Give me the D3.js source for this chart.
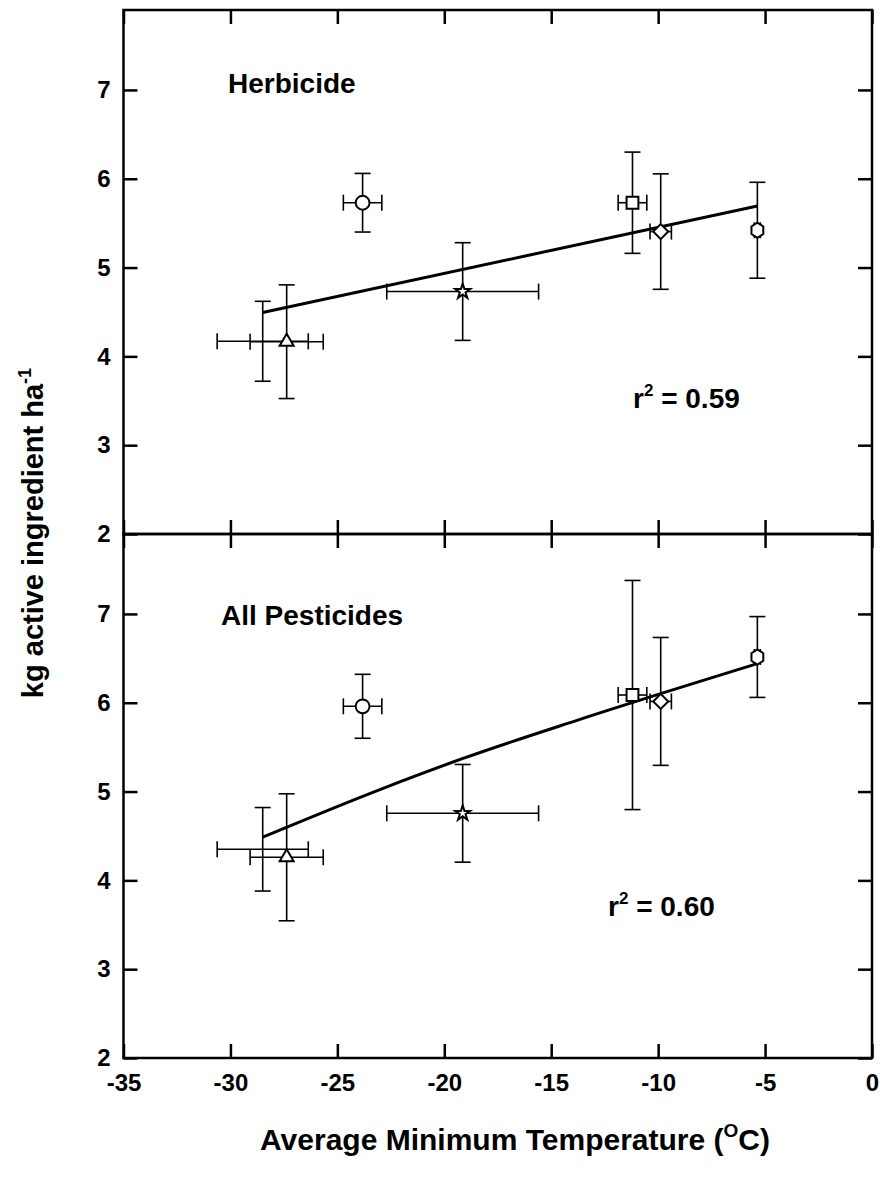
<!DOCTYPE html>
<html>
<head>
<meta charset="utf-8">
<script src="https://cdn.jsdelivr.net/npm/d3@7"></script>
<style>
  body { margin: 0; background: #fff; }
  svg { display: block; font-family: "Liberation Sans", Arial, sans-serif; font-weight: bold; }
</style>
</head>
<body>
<div id="chart"></div>
<script>
// Data
// one entry per site; the first one has no visible marker
const symbols = ["none", "triangle", "circle", "star", "square", "diamond", "hexagon"];
const temps = [-28.49, -27.37, -23.82, -19.14, -11.2, -9.88, -5.36];
const tempErr = [2.13, 1.71, 0.9, 3.55, 0.67, 0.5, 0.14];

const herbicide = [4.17, 4.165, 5.73, 4.73, 5.73, 5.405, 5.42];
const herbicideErr = [0.45, 0.64, 0.33, 0.55, 0.57, 0.65, 0.54];

const pesticides = [4.35, 4.26, 5.96, 4.755, 6.087, 6.015, 6.515];
const pesticidesErr = [0.47, 0.715, 0.36, 0.55, 1.29, 0.72, 0.455];

// fitted lines
const herbicideFitX = [-28.49, -5.36];
const herbicideFitY = [4.494, 5.693];
const pesticidesFitX = [-28.49, -23.04, -19.16, -13.69, -5.36];
const pesticidesFitY = [4.487, 5.02, 5.37, 5.81, 6.44];

const xTicks = [-35, -30, -25, -20, -15, -10, -5, 0];
const yTicks = [2, 3, 4, 5, 6, 7];

// Graph dimensions
const width = 880;
const height = 1181;
const left = 123.5, right = 872;
const top1 = 10, mid = 534, bottom2 = 1058;
const tickFont = 24;

const svg = d3.select("#chart").append("svg")
  .attr("width", width)
  .attr("height", height);

const xScale = d3.scaleLinear().domain([-35, 0]).range([left, right]);
const yTop = d3.scaleLinear().domain([2, 7.9]).range([mid, top1]);
const yBottom = d3.scaleLinear().domain([2, 7.9]).range([bottom2, mid]);

// plain hyphen for negative numbers, like the original
const fmt = (d) => String(d);

// hexagon symbol with pointed top and bottom
const symbolHexagon = {
  draw(context, size) {
    const r = Math.sqrt(size / 2.598);
    for (let i = 0; i < 6; i++) {
      const a = Math.PI / 2 + i * Math.PI / 3;
      const px = r * Math.cos(a) * 0.9, py = r * Math.sin(a);
      if (i === 0) context.moveTo(px, py); else context.lineTo(px, py);
    }
    context.closePath();
  }
};

const symbolPath = {
  circle: d3.symbol(d3.symbolCircle, 150)(),
  square: d3.symbol(d3.symbolSquare, 140)(),
  diamond: d3.symbol(d3.symbolSquare, 112)(),
  triangle: d3.symbol(d3.symbolTriangle, 85)(),
  star: d3.symbol(d3.symbolStar, 70)(),
  hexagon: d3.symbol(symbolHexagon, 150)()
};

function drawPanel(yScale, values, errs, fitX, fitY, curve, showBottomLabels) {
  const g = svg.append("g");
  const pts = temps.map((t, i) => ({ x: t, y: values[i], xe: tempErr[i], ye: errs[i], s: symbols[i] }));
  const cap = 8;

  // error bars
  const eb = g.append("g").attr("stroke", "#000").attr("stroke-width", 1.6).attr("fill", "none");
  pts.forEach((d) => {
    const cx = xScale(d.x);
    const y0 = yScale(d.y - d.ye), y1 = yScale(d.y + d.ye);
    eb.append("line").attr("x1", cx).attr("x2", cx).attr("y1", y0).attr("y2", y1);
    eb.append("line").attr("x1", cx - cap).attr("x2", cx + cap).attr("y1", y0).attr("y2", y0);
    eb.append("line").attr("x1", cx - cap).attr("x2", cx + cap).attr("y1", y1).attr("y2", y1);
    const cy = yScale(d.y);
    const x0 = xScale(d.x - d.xe), x1 = xScale(d.x + d.xe);
    eb.append("line").attr("x1", x0).attr("x2", x1).attr("y1", cy).attr("y2", cy);
    eb.append("line").attr("x1", x0).attr("x2", x0).attr("y1", cy - cap).attr("y2", cy + cap);
    eb.append("line").attr("x1", x1).attr("x2", x1).attr("y1", cy - cap).attr("y2", cy + cap);
  });

  // fit line
  const line = d3.line()
    .x((d) => xScale(d[0]))
    .y((d) => yScale(d[1]))
    .curve(curve);
  g.append("path")
    .datum(fitX.map((v, i) => [v, fitY[i]]))
    .attr("d", line)
    .attr("fill", "none")
    .attr("stroke", "#000")
    .attr("stroke-width", 3);

  // markers
  g.selectAll("path.marker")
    .data(pts.filter((d) => d.s !== "none"))
    .enter()
    .append("path")
    .attr("class", "marker")
    .attr("d", (d) => symbolPath[d.s])
    .attr("transform", (d) => `translate(${xScale(d.x)},${yScale(d.y)})` + (d.s === "diamond" ? " rotate(45)" : ""))
    .attr("fill", "#fff")
    .attr("stroke", "#000")
    .attr("stroke-width", 2);

  // axes, ticks pointing inward
  const [yb, yt] = yScale.range();
  const yAxisL = g.append("g")
    .attr("transform", `translate(${left},0)`)
    .call(d3.axisLeft(yScale).tickValues(yTicks).tickSize(-14).tickPadding(13).tickFormat(fmt));
  const yAxisR = g.append("g")
    .attr("transform", `translate(${right},0)`)
    .call(d3.axisRight(yScale).tickValues(yTicks).tickSize(-14).tickFormat(""));
  const xAxisB = g.append("g")
    .attr("transform", `translate(0,${yb})`)
    .call(d3.axisBottom(xScale).tickValues(xTicks).tickSize(-14).tickPadding(16).tickFormat(showBottomLabels ? fmt : ""));
  const xAxisT = g.append("g")
    .attr("transform", `translate(0,${yt})`)
    .call(d3.axisTop(xScale).tickValues(xTicks).tickSize(-14).tickFormat(""));

  [yAxisL, yAxisR, xAxisB, xAxisT].forEach((a) => {
    a.select(".domain").remove();
    a.selectAll("line").attr("stroke", "#000").attr("stroke-width", 2.5);
    a.selectAll("text").attr("font-size", tickFont).attr("font-family", null).attr("fill", "#000");
  });

  // frame
  g.append("rect")
    .attr("x", left)
    .attr("y", yt)
    .attr("width", right - left)
    .attr("height", yb - yt)
    .attr("fill", "none")
    .attr("stroke", "#000")
    .attr("stroke-width", 2.5);
  return g;
}

drawPanel(yTop, herbicide, herbicideErr, herbicideFitX, herbicideFitY, d3.curveLinear, false);
drawPanel(yBottom, pesticides, pesticidesErr, pesticidesFitX, pesticidesFitY, d3.curveMonotoneX, true);

// panel labels
svg.append("text").attr("x", 228).attr("y", 93).attr("font-size", 28).text("Herbicide");
svg.append("text").attr("x", 221).attr("y", 625).attr("font-size", 28).text("All Pesticides");

function rLabel(x, y, val) {
  const t = svg.append("text").attr("x", x).attr("y", y).attr("font-size", 28);
  t.append("tspan").text("r");
  t.append("tspan").attr("dy", -12).attr("font-size", 17).text("2");
  t.append("tspan").attr("dy", 12).text(" = " + val);
}
rLabel(633, 408, "0.59");
rLabel(608, 916, "0.60");

// axis titles
const xt = svg.append("text").attr("x", 515).attr("y", 1150).attr("text-anchor", "middle").attr("font-size", 30);
xt.append("tspan").text("Average Minimum Temperature (");
xt.append("tspan").attr("dy", -13).attr("font-size", 19).text("O");
xt.append("tspan").attr("dy", 13).text("C)");

const yt = svg.append("text")
  .attr("transform", "translate(43,533) rotate(-90)")
  .attr("text-anchor", "middle")
  .attr("font-size", 29);
yt.append("tspan").text("kg active ingredient ha");
yt.append("tspan").attr("dy", -12).attr("font-size", 18).text("-1");
</script>
</body>
</html>
